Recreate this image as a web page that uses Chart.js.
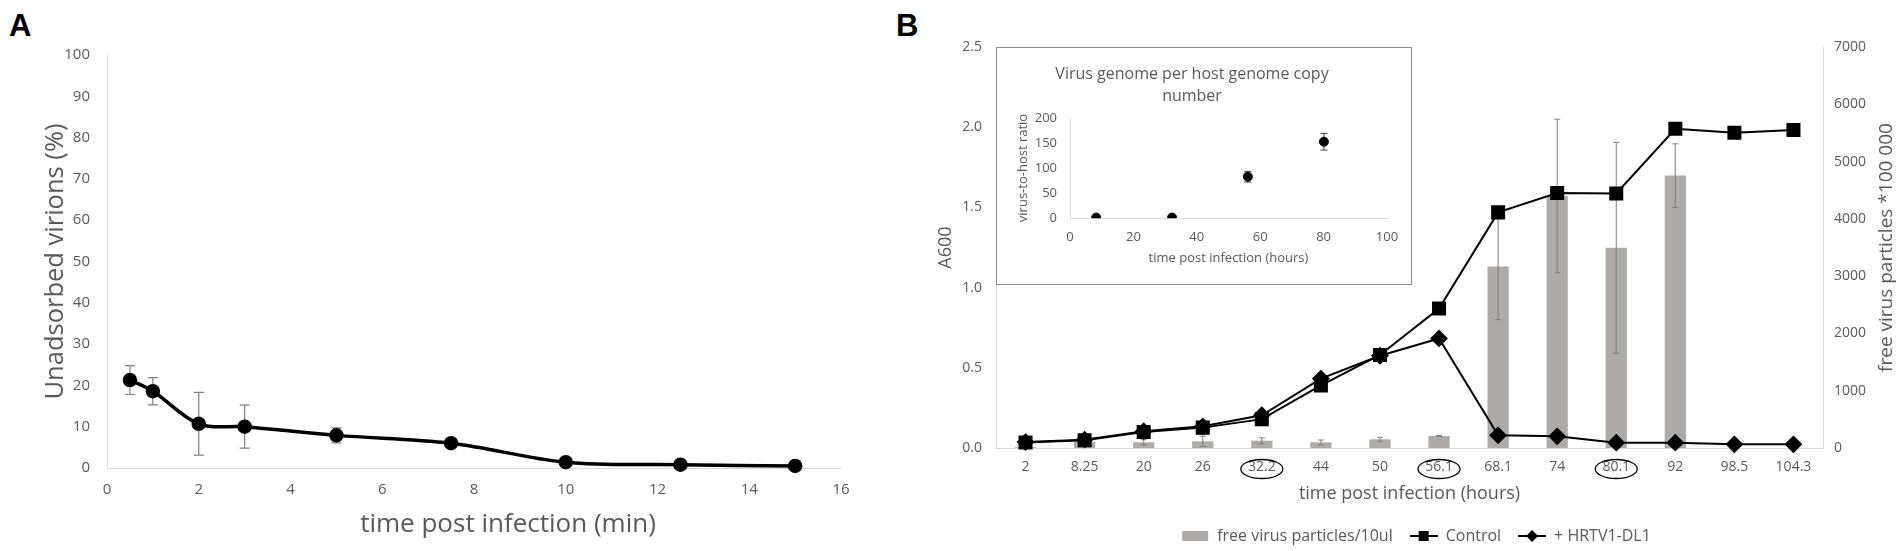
<!DOCTYPE html>
<html>
<head>
<meta charset="utf-8">
<title>Adsorption and infection time course</title>
<script src="https://cdn.jsdelivr.net/npm/chart.js@4.4.1/dist/chart.umd.min.js"></script>
<style>
  html, body { margin: 0; padding: 0; background: #fff; }
  body { width: 1902px; height: 551px; position: relative; overflow: hidden; font-family: 'Liberation Sans', Arial, sans-serif; }
  .panel-label { position: absolute; font-weight: bold; font-size: 31px; line-height: 1; color: #000; }
  canvas { position: absolute; }
  #insetBox { position: absolute; left: 996px; top: 47px; width: 416px; height: 238px; box-sizing: border-box; border: 1px solid #8c8c8c; background: #fff; }
  #insetBox canvas { left: 0; top: 0; }
</style>
</head>
<body>
<div class="panel-label" style="left:9px; top:10px;">A</div>
<div class="panel-label" style="left:896px; top:10px;">B</div>
<canvas id="chartA" width="900" height="551" style="left:0; top:0;"></canvas>
<canvas id="chartB" width="972" height="551" style="left:930px; top:0;"></canvas>
<div id="insetBox"><canvas id="chartInset" width="414" height="236"></canvas></div>

<script>
// panel A: adsorption
const adsorbMinutes = [0.5, 1, 2, 3, 5, 7.5, 10, 12.5, 15];
const unadsorbed = [21.3, 18.6, 10.7, 10.0, 7.9, 6.0, 1.4, 0.8, 0.5];
const unadsorbedErr = [3.5, 3.3, 7.6, 5.2, 1.8, 0.5, 0.4, 0.3, 0.3];

// panel B: growth curve
const hours = ['2', '8.25', '20', '26', '32.2', '44', '50', '56.1', '68.1', '74', '80.1', '92', '98.5', '104.3'];
const circledHours = ['32.2', '56.1', '80.1'];
const freeParticles = [15, 105, 100, 117, 128, 99, 152, 210, 3170, 4400, 3495, 4755, null, null];
const freeParticlesErr = [5, 20, 45, 90, 50, 40, 35, 8, 930, 1340, 1840, 555, null, null];
const a600Control = [0.035, 0.048, 0.10, 0.127, 0.18, 0.39, 0.58, 0.869, 1.469, 1.59, 1.587, 1.99, 1.965, 1.983];
const a600Hrtv = [0.037, 0.052, 0.105, 0.135, 0.204, 0.433, 0.575, 0.683, 0.079, 0.073, 0.033, 0.033, 0.023, 0.023];

// inset: genome copy ratio
const genomeHours = [8.25, 32.2, 56.1, 80.1];
const genomeRatio = [0.8, 0.8, 82.6, 152.6];
const genomeRatioErr = [0.5, 0.5, 10.7, 16.7];

const textGray = '#595959';
const axisGray = '#d9d9d9';
const fontStack = "'Open Sans', 'Noto Sans', sans-serif";

Chart.defaults.font.family = fontStack;
Chart.defaults.color = textGray;

function drawErrorBars(chart, datasetIndex, errors, cap, color, width) {
  const meta = chart.getDatasetMeta(datasetIndex);
  const yScale = chart.scales[meta.yAxisID];
  const data = chart.data.datasets[datasetIndex].data;
  const ctx = chart.ctx;
  ctx.save();
  ctx.strokeStyle = color;
  ctx.lineWidth = width;
  meta.data.forEach(function (el, i) {
    const raw = data[i];
    const v = (raw !== null && typeof raw === 'object') ? raw.y : raw;
    const e = errors[i];
    if (v == null || !e) return;
    const top = yScale.getPixelForValue(v + e);
    const bottom = yScale.getPixelForValue(v - e);
    ctx.beginPath();
    ctx.moveTo(el.x, top);
    ctx.lineTo(el.x, bottom);
    ctx.moveTo(el.x - cap, top);
    ctx.lineTo(el.x + cap, top);
    ctx.moveTo(el.x - cap, bottom);
    ctx.lineTo(el.x + cap, bottom);
    ctx.stroke();
  });
  ctx.restore();
}

function drawText(ctx, text, x, y, size, angle) {
  ctx.save();
  ctx.fillStyle = textGray;
  ctx.font = size + 'px ' + fontStack;
  ctx.textAlign = 'center';
  ctx.textBaseline = 'middle';
  ctx.translate(x, y);
  if (angle) ctx.rotate(angle);
  ctx.fillText(text, 0, 0);
  ctx.restore();
}

// small pictures for the legend: bar swatch, line with square, line with diamond
function makeLegendIcon(kind) {
  const c = document.createElement('canvas');
  c.width = 28;
  c.height = 12;
  const g = c.getContext('2d');
  if (kind === 'bar') {
    g.fillStyle = '#aeaaaa';
    g.fillRect(1, 1, 26, 10);
    return c;
  }
  g.strokeStyle = '#000';
  g.lineWidth = 2;
  g.beginPath();
  g.moveTo(0, 6);
  g.lineTo(28, 6);
  g.stroke();
  g.fillStyle = '#000';
  g.beginPath();
  if (kind === 'square') {
    g.rect(9, 1, 10, 10);
  } else {
    g.moveTo(14, 0); g.lineTo(20, 6); g.lineTo(14, 12); g.lineTo(8, 6);
    g.closePath();
  }
  g.fill();
  return c;
}
const legendIcons = [makeLegendIcon('bar'), makeLegendIcon('square'), makeLegendIcon('diamond')];

// ---------- A ----------
new Chart(document.getElementById('chartA'), {
  type: 'line',
  data: {
    datasets: [{
      label: 'Unadsorbed virions (%)',
      data: adsorbMinutes.map(function (t, i) { return { x: t, y: unadsorbed[i] }; }),
      borderColor: '#000',
      backgroundColor: '#000',
      borderWidth: 3.5,
      pointRadius: 5.5,
      pointHoverRadius: 5.5,
      tension: 0.35,
      clip: false
    }]
  },
  options: {
    responsive: false,
    animation: false,
    layout: { autoPadding: false, padding: { left: 0, top: 55, right: 59, bottom: 0 } },
    plugins: { legend: { display: false }, tooltip: { enabled: false } },
    scales: {
      x: {
        type: 'linear', min: 0, max: 16,
        ticks: { stepSize: 2, padding: 13, font: { size: 15 } },
        grid: { display: false, drawTicks: false },
        border: { color: axisGray },
        afterFit: function (s) { s.height = 83; }
      },
      y: {
        min: 0, max: 100,
        ticks: { stepSize: 10, padding: 17, font: { size: 15 } },
        grid: { display: false, drawTicks: false },
        border: { color: axisGray },
        title: { display: true, text: 'Unadsorbed virions (%)', font: { size: 25.5, lineHeight: 1.2 }, padding: { top: 40, bottom: 0 } },
        afterFit: function (s) { s.width = 107; }
      }
    }
  },
  plugins: [{
    id: 'adsorbErrors',
    beforeDatasetsDraw: function (chart) { drawErrorBars(chart, 0, unadsorbedErr, 5, '#7f7f7f', 1.2); }
  }, {
    id: 'adsorbXTitle',
    afterDraw: function (chart) {
      // the x title sits a little right of the plot centre in the original
      const xs = chart.scales.x;
      drawText(chart.ctx, 'time post infection (min)', (xs.left + xs.right) / 2 + 34, xs.top + 57, 26, 0);
    }
  }]
});

// ---------- B ----------
new Chart(document.getElementById('chartB'), {
  type: 'bar',
  data: {
    labels: hours,
    datasets: [{
      type: 'bar',
      label: 'free virus particles/10ul',
      data: freeParticles,
      yAxisID: 'y2',
      backgroundColor: '#aeaaaa',
      barPercentage: 0.36,
      categoryPercentage: 1,
      order: 2
    }, {
      type: 'line',
      label: 'Control',
      data: a600Control,
      yAxisID: 'y',
      borderColor: '#000',
      backgroundColor: '#000',
      borderWidth: 2,
      pointStyle: 'rect',
      pointRadius: 8.5,
      pointHoverRadius: 8.5,
      clip: false,
      order: 1
    }, {
      type: 'line',
      label: '+ HRTV1-DL1',
      data: a600Hrtv,
      yAxisID: 'y',
      borderColor: '#000',
      backgroundColor: '#000',
      borderWidth: 2,
      pointStyle: 'rectRot',
      pointRadius: 7.5,
      pointHoverRadius: 7.5,
      clip: false,
      order: 0
    }]
  },
  options: {
    responsive: false,
    animation: false,
    layout: { autoPadding: false, padding: { left: 0, top: 47, right: 0, bottom: -3 } },
    plugins: {
      tooltip: { enabled: false },
      legend: {
        position: 'bottom',
        labels: {
          usePointStyle: true,
          pointStyleWidth: 28,
          padding: 17,
          color: textGray,
          font: { size: 16 },
          sort: function (a, b) { return a.datasetIndex - b.datasetIndex; },
          generateLabels: function (chart) {
            const items = Chart.defaults.plugins.legend.labels.generateLabels(chart);
            items.forEach(function (it) { it.pointStyle = legendIcons[it.datasetIndex]; });
            return items;
          }
        }
      }
    },
    scales: {
      x: {
        ticks: { padding: 11, font: { size: 14 } },
        grid: { display: false, drawTicks: false },
        border: { color: axisGray },
        title: { display: true, text: 'time post infection (hours)', font: { size: 18, lineHeight: 1.2 }, padding: { top: 0, bottom: 6 } },
        afterFit: function (s) { s.height = 63; }
      },
      y: {
        position: 'left',
        min: 0, max: 2.5,
        ticks: { stepSize: 0.5, padding: 14, font: { size: 14 }, callback: function (v) { return v.toFixed(1); } },
        grid: { display: false, drawTicks: false },
        border: { color: axisGray },
        title: { display: true, text: 'A600', font: { size: 18, lineHeight: 1.2 }, padding: { top: 5, bottom: 0 } },
        afterFit: function (s) { s.width = 66; }
      },
      y2: {
        position: 'right',
        min: 0, max: 7000,
        ticks: { stepSize: 1000, padding: 11, font: { size: 14 }, callback: function (v) { return String(v); } },
        grid: { display: false, drawTicks: false },
        border: { color: axisGray },
        afterFit: function (s) { s.width = 79; }
      }
    }
  },
  plugins: [{
    id: 'particleErrors',
    afterDatasetDraw: function (chart, args) {
      if (args.index === 0) drawErrorBars(chart, 0, freeParticlesErr, 3, '#7f7f7f', 1);
    }
  }, {
    id: 'extras',
    afterDraw: function (chart) {
      const ctx = chart.ctx;
      const xs = chart.scales.x;
      const area = chart.chartArea;
      ctx.save();
      // circled sampling times
      ctx.strokeStyle = '#000';
      ctx.lineWidth = 1.3;
      circledHours.forEach(function (h) {
        const x = xs.getPixelForValue(hours.indexOf(h));
        ctx.beginPath();
        ctx.ellipse(x, xs.top + 21, 21, 9.5, 0, 0, Math.PI * 2);
        ctx.stroke();
      });
      ctx.restore();
      // right axis title, reading upwards like the left one
      drawText(ctx, 'free virus particles *100 000', chart.width - 15, (area.top + area.bottom) / 2, 19, -Math.PI / 2);
    }
  }]
});

// ---------- inset ----------
new Chart(document.getElementById('chartInset'), {
  type: 'scatter',
  data: {
    datasets: [{
      label: 'virus-to-host ratio',
      data: genomeHours.map(function (t, i) { return { x: t, y: genomeRatio[i] }; }),
      backgroundColor: '#000',
      borderColor: '#000',
      pointRadius: 4.5,
      pointHoverRadius: 4.5
    }]
  },
  options: {
    responsive: false,
    animation: false,
    layout: { autoPadding: false, padding: { left: 0, top: 0, right: 24, bottom: 0 } },
    plugins: {
      legend: { display: false },
      tooltip: { enabled: false },
      title: {
        display: true,
        text: ['Virus genome per host genome copy', 'number'],
        color: textGray,
        font: { size: 16, weight: 'normal', lineHeight: 1.375 },
        padding: { top: 15, bottom: 11 }
      }
    },
    scales: {
      x: {
        type: 'linear', min: 0, max: 100,
        ticks: { stepSize: 20, padding: 11, font: { size: 13 } },
        grid: { display: false, drawTicks: false },
        border: { color: axisGray },
        title: { display: true, text: 'time post infection (hours)', font: { size: 13, lineHeight: 1.2 }, padding: { top: 0, bottom: 18 } },
        afterFit: function (s) { s.height = 66; }
      },
      y: {
        min: 0, max: 200,
        ticks: { stepSize: 50, padding: 13, font: { size: 13 } },
        grid: { display: false, drawTicks: false },
        border: { color: axisGray },
        title: { display: true, text: 'virus-to-host ratio', font: { size: 13, lineHeight: 1.2 }, padding: { top: 18, bottom: 0 } },
        afterFit: function (s) { s.width = 73; }
      }
    }
  },
  plugins: [{
    id: 'genomeErrors',
    beforeDatasetsDraw: function (chart) { drawErrorBars(chart, 0, genomeRatioErr, 3.5, '#404040', 1); }
  }]
});
</script>
</body>
</html>
